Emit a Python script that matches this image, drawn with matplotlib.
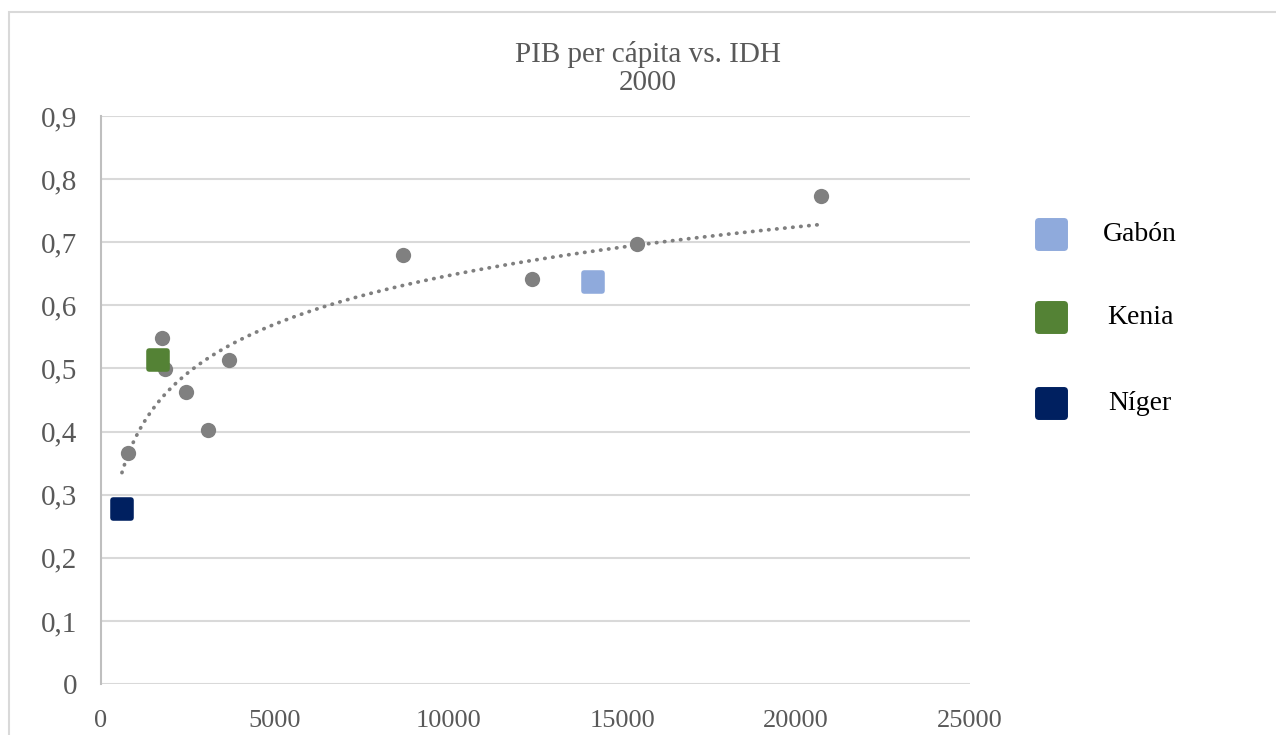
import matplotlib
matplotlib.use("Agg")
import matplotlib.pyplot as plt
from matplotlib.markers import MarkerStyle
from matplotlib.patches import Rectangle
import numpy as np

# data (GDP per capita vs HDI, 2000)
gdp_other = [776, 1753, 1839, 2443, 3075, 3678, 8678, 12385, 15431, 20718]
hdi_other = [0.366, 0.548, 0.499, 0.463, 0.403, 0.513, 0.680, 0.642, 0.697, 0.773]

countries = ["Gabón", "Kenia", "Níger"]
gdp_countries = [14167, 1638, 603]
hdi_countries = [0.637, 0.513, 0.277]
country_colors = ["#8faadc", "#548235", "#002060"]

x_ticks = [0, 5000, 10000, 15000, 20000, 25000]
y_ticks = [0, 0.1, 0.2, 0.3, 0.4, 0.5, 0.6, 0.7, 0.8, 0.9]

serif = "Liberation Serif"
W, H = 1276, 735

fig = plt.figure(figsize=(W / 100, H / 100), dpi=100, facecolor="w")
axe = fig.add_axes([101 / W, 1 - 684 / H, (970 - 101) / W, (684 - 116) / H])

# chart border (open on right and bottom, as in the reference)
fig.patches.append(Rectangle((9 / W, -0.1), 1.2, 1 - 12 / H + 0.1, transform=fig.transFigure,
                             fill=False, edgecolor="#d9d9d9", linewidth=1.5))

# logarithmic trend line over all points
all_x = np.array(gdp_other + gdp_countries, dtype=float)
all_y = np.array(hdi_other + hdi_countries, dtype=float)
a, b = np.polyfit(np.log(all_x), all_y, 1)
xt = np.linspace(all_x.min(), all_x.max(), 300)
axe.plot(xt, a * np.log(xt) + b, color="#7f7f7f", linewidth=2.7,
         linestyle=(0, (0.1, 2.05)), dash_capstyle="round", zorder=3)

# gray points
axe.plot(gdp_other, hdi_other, linestyle="none", marker="o", markersize=11,
         color="#808080", markeredgewidth=0, zorder=4)

# highlighted countries
sq = MarkerStyle("s", joinstyle="round")
for c, gx, hy, col in zip(countries, gdp_countries, hdi_countries, country_colors):
    axe.plot([gx], [hy], linestyle="none", marker=sq, markersize=13.5, color=col,
             markeredgecolor=col, markeredgewidth=4, zorder=5, label=c)

# axes
axe.set_xlim(0, 25000)
axe.set_ylim(0, 0.9)
axe.set_xticks(x_ticks)
axe.set_yticks(y_ticks)
axe.set_xticklabels([str(t) for t in x_ticks], fontname=serif, fontsize=19, color="#595959")
axe.set_yticklabels([("%g" % t).replace(".", ",") for t in y_ticks], fontname=serif,
                    fontsize=21, color="#595959")
axe.tick_params(length=0)
axe.tick_params(axis="x", pad=19)
axe.tick_params(axis="y", pad=17)
axe.grid(axis="y", color="#d9d9d9", linewidth=1.5)
axe.set_axisbelow(True)
for s in ["top", "right", "bottom"]:
    axe.spines[s].set_visible(False)
axe.spines["left"].set_color("#bfbfbf")
axe.spines["left"].set_linewidth(1.5)

# title
fig.text(648 / W, 1 - 68 / H, "PIB per cápita vs. IDH\n2000", ha="center", va="center",
         fontname=serif, fontsize=21, color="#595959", linespacing=1.1)

# legend drawn manually to match spacing
leg_y = [234, 317, 403]
for c, col, py in zip(countries, country_colors, leg_y):
    fig.lines.append(plt.Line2D([1051 / W], [1 - py / H], transform=fig.transFigure,
                                linestyle="none", marker=sq, markersize=19, color=col,
                                markeredgecolor=col, markeredgewidth=5))
    fig.text(1140 / W, 1 - py / H, c, ha="center", va="center", fontname=serif,
             fontsize=20, color="black")

fig.savefig("out.png", dpi=100, facecolor="w")
